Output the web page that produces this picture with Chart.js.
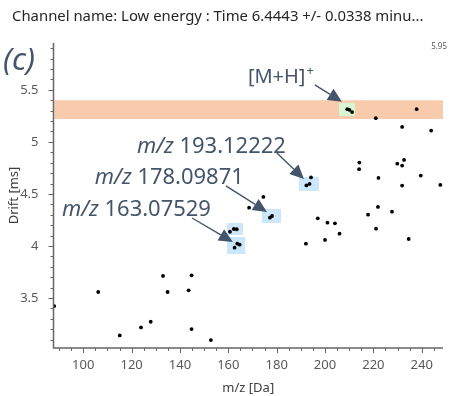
<!DOCTYPE html>
<html>
<head>
<meta charset="utf-8">
<script src="https://cdn.jsdelivr.net/npm/chart.js@4/dist/chart.umd.min.js"></script>
<style>
  html, body { margin: 0; padding: 0; background: #ffffff; }
  #wrap { width: 455px; height: 396px; position: relative; }
</style>
</head>
<body>
<div id="wrap"><canvas id="c" width="455" height="396"></canvas></div>
<script>
// ---- data ----
const mzValues = [88.0, 106.2, 115.1, 123.9, 127.9, 133.0, 134.9, 143.6, 144.8, 144.8, 152.8,
  160.7, 162.3, 163.5, 162.6, 163.7, 164.7, 168.6, 174.5, 177.2, 178.1,
  192.3, 193.6, 194.2, 192.1, 197.0, 200.0, 201.0, 204.1, 206.0,
  209.2, 210.1, 211.2, 221.0, 237.9, 231.9, 243.9,
  214.2, 214.1, 229.9, 232.7, 231.9, 222.1, 239.6, 231.9, 247.7,
  221.9, 217.8, 227.7, 221.1, 234.6];
const driftValues = [3.423, 3.558, 3.141, 3.218, 3.272, 3.712, 3.558, 3.574, 3.718, 3.202, 3.096,
  4.137, 4.163, 4.161, 3.984, 4.022, 4.013, 4.368, 4.471, 4.272, 4.288,
  4.582, 4.596, 4.659, 4.022, 4.266, 4.058, 4.224, 4.218, 4.118,
  5.314, 5.308, 5.286, 5.228, 5.314, 5.144, 5.109,
  4.801, 4.738, 4.791, 4.827, 4.772, 4.654, 4.676, 4.580, 4.587,
  4.375, 4.301, 4.330, 4.166, 4.067];

const xRange = [87.7, 248.8];
const yRange = [3.02, 5.95];
const xMajorStep = 20, xMinorStep = 5;
const yMajorStep = 0.5, yMinorStep = 0.1;

const titleText = "Channel name: Low energy : Time 6.4443 +/- 0.0338 minu...";
const panelLabel = "(c)";
const maxLabel = "5.95";

// highlighted drift band ([M+H]+)
const bandDrift = [5.22, 5.40];
// highlight boxes: [xMin, xMax, yMin, yMax]
const greenBoxes = [[205.8, 212.4, 5.250, 5.375]];
const blueBoxes = [
  [189.2, 197.5, 4.529, 4.663],
  [173.9, 181.8, 4.221, 4.356],
  [159.5, 166.1, 4.106, 4.221],
  [159.5, 167.0, 3.923, 4.087]
];
// annotation labels: [prefixItalic, rest, xLeft, yCenter]
const annoLabels = [
  ["m/z", " 193.12222", 122.2, 4.952],
  ["m/z", " 178.09871", 104.8, 4.654],
  ["m/z", " 163.07529", 91.2, 4.346]
];
const ionLabel = ["[M+H]", "+", 168.1, 5.625];
// arrows: [x0, y0, x1(tip), y1(tip)]
const arrows = [
  [195.8, 5.548, 207.0, 5.385],
  [180.1, 4.894, 191.3, 4.644],
  [159.0, 4.577, 176.0, 4.327],
  [145.0, 4.269, 161.9, 4.038]
];

const points = mzValues.map((x, i) => ({ x: x, y: driftValues[i] }));

const FONT = "'Noto Sans', 'Open Sans', sans-serif";
const ANNO_COLOR = "#44546a";
const AXIS_COLOR = "#666666";
const TICK_COLOR = "#595959";

function isMult(v, step) {
  const r = v / step;
  return Math.abs(r - Math.round(r)) < 1e-6;
}

const decoPlugin = {
  id: 'deco',
  beforeDatasetsDraw(chart) {
    const ctx = chart.ctx, xs = chart.scales.x, ys = chart.scales.y, a = chart.chartArea;
    ctx.save();
    ctx.beginPath();
    ctx.rect(a.left, a.top, a.right - a.left, a.bottom - a.top);
    ctx.clip();
    ctx.fillStyle = "#f8cbad";
    const by0 = ys.getPixelForValue(bandDrift[1]), by1 = ys.getPixelForValue(bandDrift[0]);
    ctx.fillRect(a.left + 1, by0, a.right - a.left - 1, by1 - by0);
    const drawBox = (b, fill) => {
      const x0 = xs.getPixelForValue(b[0]), x1 = xs.getPixelForValue(b[1]);
      const y0 = ys.getPixelForValue(b[3]), y1 = ys.getPixelForValue(b[2]);
      ctx.fillStyle = fill;
      ctx.fillRect(x0, y0, x1 - x0, y1 - y0);
    };
    greenBoxes.forEach(b => drawBox(b, "#d9f6d2"));
    blueBoxes.forEach(b => drawBox(b, "#cce7fb"));
    ctx.restore();
  },
  afterDatasetsDraw(chart) {
    const ctx = chart.ctx, xs = chart.scales.x, ys = chart.scales.y, a = chart.chartArea;
    ctx.save();
    ctx.strokeStyle = AXIS_COLOR;
    ctx.lineWidth = 1;
    for (let v = Math.ceil(yRange[0] / yMinorStep) * yMinorStep; v <= yRange[1] + 1e-9; v += yMinorStep) {
      const py = Math.round(ys.getPixelForValue(v)) + 0.5;
      const len = isMult(v, yMajorStep) ? 5 : 3;
      ctx.beginPath(); ctx.moveTo(a.left - len, py); ctx.lineTo(a.left, py); ctx.stroke();
    }
    for (let v = Math.ceil(xRange[0] / xMinorStep) * xMinorStep; v <= xRange[1] + 1e-9; v += xMinorStep) {
      const px = Math.round(xs.getPixelForValue(v)) + 0.5;
      const len = isMult(v, xMajorStep) ? 5 : 3;
      ctx.beginPath(); ctx.moveTo(px, a.bottom); ctx.lineTo(px, a.bottom + len); ctx.stroke();
    }
    ctx.lineWidth = 1.5;
    ctx.beginPath();
    ctx.moveTo(a.left, a.top); ctx.lineTo(a.left, a.bottom); ctx.lineTo(a.right, a.bottom);
    ctx.stroke();

    // arrows
    ctx.strokeStyle = ANNO_COLOR;
    ctx.fillStyle = ANNO_COLOR;
    arrows.forEach(ar => {
      const x0 = xs.getPixelForValue(ar[0]), y0 = ys.getPixelForValue(ar[1]);
      const x1 = xs.getPixelForValue(ar[2]), y1 = ys.getPixelForValue(ar[3]);
      const ang = Math.atan2(y1 - y0, x1 - x0);
      const hl = 14, hw = 6.5;
      const bx = x1 - hl * Math.cos(ang), byy = y1 - hl * Math.sin(ang);
      ctx.lineWidth = 1.4;
      ctx.beginPath(); ctx.moveTo(x0, y0); ctx.lineTo(bx, byy); ctx.stroke();
      ctx.beginPath();
      ctx.moveTo(x1, y1);
      ctx.lineTo(bx + hw * Math.sin(ang), byy - hw * Math.cos(ang));
      ctx.lineTo(bx - hw * Math.sin(ang), byy + hw * Math.cos(ang));
      ctx.closePath(); ctx.fill();
    });

    // annotation labels, sized to the reference width (~149 px)
    ctx.textBaseline = "middle";
    ctx.textAlign = "left";
    annoLabels.forEach(l => {
      let fs = 18;
      ctx.font = "italic " + fs + "px " + FONT;
      let w = ctx.measureText(l[0]).width;
      ctx.font = fs + "px " + FONT;
      w += ctx.measureText(l[1]).width;
      fs = fs * 149 / w;
      let px = xs.getPixelForValue(l[2]);
      const py = ys.getPixelForValue(l[3]);
      ctx.font = "italic " + fs + "px " + FONT;
      ctx.fillText(l[0], px, py);
      px += ctx.measureText(l[0]).width;
      ctx.font = fs + "px " + FONT;
      ctx.fillText(l[1], px, py);
    });
    {
      let px = xs.getPixelForValue(ionLabel[2]);
      const py = ys.getPixelForValue(ionLabel[3]);
      ctx.font = "20px " + FONT;
      ctx.fillText(ionLabel[0], px, py);
      px += ctx.measureText(ionLabel[0]).width + 1;
      ctx.font = "13px " + FONT;
      ctx.fillText(ionLabel[1], px, py - 6);
    }
    ctx.restore();
  },
  afterDraw(chart) {
    const ctx = chart.ctx;
    ctx.save();
    ctx.fillStyle = "#262626";
    ctx.textBaseline = "middle";
    ctx.textAlign = "left";
    let fs = 14.5;
    ctx.font = fs + "px " + FONT;
    const w = ctx.measureText(titleText).width;
    fs = fs * 412 / w;
    ctx.font = fs + "px " + FONT;
    ctx.fillText(titleText, 12, 17);

    ctx.fillStyle = ANNO_COLOR;
    ctx.font = "italic 31px " + FONT;
    ctx.fillText(panelLabel, 3, 61);

    ctx.fillStyle = "#595959";
    ctx.font = "8px " + FONT;
    ctx.textAlign = "right";
    ctx.fillText(maxLabel, 447, 47);
    ctx.restore();
  }
};

new Chart(document.getElementById('c'), {
  type: 'scatter',
  data: {
    datasets: [{
      data: points,
      backgroundColor: '#000000',
      borderColor: '#000000',
      pointRadius: 1.9,
      pointBorderWidth: 0
    }]
  },
  options: {
    responsive: false,
    animation: false,
    devicePixelRatio: 1,
    layout: { padding: { left: 0, top: 43, right: 12, bottom: 0 } },
    plugins: { legend: { display: false }, tooltip: { enabled: false }, title: { display: false } },
    scales: {
      x: {
        type: 'linear',
        min: xRange[0], max: xRange[1],
        afterFit: s => { s.height = 48; },
        afterBuildTicks: s => {
          const t = [];
          for (let v = Math.ceil(xRange[0] / xMajorStep) * xMajorStep; v <= xRange[1]; v += xMajorStep) t.push({ value: v });
          s.ticks = t;
        },
        grid: { display: false, drawOnChartArea: false },
        border: { display: false },
        ticks: {
          color: TICK_COLOR,
          font: { family: FONT, size: 13 },
          padding: 1,
          maxRotation: 0,
          callback: v => String(Math.round(v))
        },
        title: {
          display: true, text: 'm/z [Da]', color: '#404040',
          font: { family: FONT, size: 13 }, padding: { top: 0, bottom: 0 }
        }
      },
      y: {
        type: 'linear',
        min: yRange[0], max: yRange[1],
        afterFit: s => { s.width = 53.5; },
        afterBuildTicks: s => {
          const t = [];
          for (let v = Math.ceil(yRange[0] / yMajorStep) * yMajorStep; v <= yRange[1]; v += yMajorStep) t.push({ value: Math.round(v * 10) / 10 });
          s.ticks = t;
        },
        grid: { display: false, drawOnChartArea: false },
        border: { display: false },
        ticks: {
          color: TICK_COLOR,
          font: { family: FONT, size: 13 },
          padding: 7,
          callback: v => String(v)
        },
        title: {
          display: true, text: 'Drift [ms]', color: '#404040',
          font: { family: FONT, size: 13 }, padding: { top: 6, bottom: 0 }
        }
      }
    }
  },
  plugins: [decoPlugin]
});
</script>
</body>
</html>
